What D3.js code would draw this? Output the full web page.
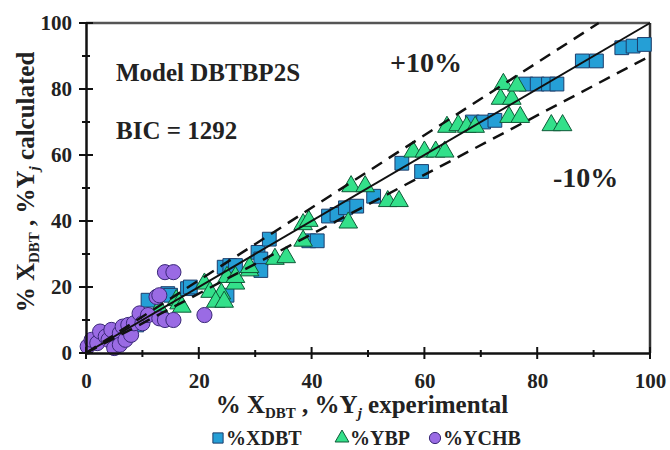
<!DOCTYPE html>
<html>
<head>
<meta charset="utf-8">
<script src="https://cdn.jsdelivr.net/npm/d3@7"></script>
<style>
  body { margin: 0; background: #fff; }
  svg text { font-family: "Liberation Serif", "Times New Roman", serif; font-weight: bold; fill: #222; }
</style>
</head>
<body>
<svg id="chart" width="670" height="450"></svg>
<script>
// %XDBT : [experimental, calculated]
var xdbt = [
  [9, 8.5], [11, 16], [14.5, 18], [15, 17.5], [18, 19.5], [18.5, 20],
  [24.5, 26], [25.5, 26.5], [26.5, 26.5], [25, 17.5], [30.5, 30.5], [31, 28.5],
  [31, 25], [32.5, 34.5], [39.5, 34], [41, 34], [43, 41.5], [44.5, 42],
  [46, 44], [48, 44.5], [51, 47.5], [56, 57.5], [59.5, 55], [68.5, 70],
  [70.5, 70], [72.5, 70.5], [78, 81.5], [80, 81.5], [82, 81.5], [83.5, 81.5],
  [88, 88.5], [90.5, 88.5], [95, 92.5], [97, 93], [99, 93.5]
];
// %YBP
var ybp = [
  [13, 13.5], [16, 16], [16.5, 15], [17, 14], [21, 21], [22, 18.5], [24, 18],
  [23, 15.5], [24.5, 15.5], [26.5, 21], [25, 23], [26.5, 23], [29, 25], [29, 26],
  [33.5, 28.5], [35.5, 29], [38.5, 34], [38.5, 39], [39.5, 40], [46.5, 39.5],
  [47, 50.5], [49.5, 50.5], [53.5, 46], [55.5, 46], [58, 61], [60, 61], [62, 61],
  [63.6, 61], [64, 68.5], [66, 69], [67.5, 68.5], [69, 68.5], [73.5, 77], [75.5, 77],
  [74, 81.5], [76.4, 81], [75, 71.5], [77, 71.5], [82.5, 69], [84.5, 69]
];
// %YCHB
var ychb = [
  [0.3, 2], [1, 4], [2, 3], [2.5, 6.5], [3.5, 5], [4, 4], [4.5, 7], [5, 1.5],
  [6, 6], [6, 2.5], [6.5, 8], [7, 4], [7.5, 8.5], [8, 5.5], [8.5, 9], [9.5, 12],
  [10, 9], [11, 11.5], [12.5, 17], [13, 17.5], [13, 10.5], [14, 10], [15.5, 10],
  [14, 24.5], [15.5, 24.5], [21, 11.5]
];
var ticks = [0, 20, 40, 60, 80, 100];
var minor_ticks = [10, 30, 50, 70, 90];
var legend_names = ["%XDBT", "%YBP", "%YCHB"];

var margin = {top: 23, right: 20, bottom: 97, left: 86},
    width = 670 - margin.left - margin.right,
    height = 450 - margin.top - margin.bottom;

var svg = d3.select("#chart");
var g = svg.append("g").attr("transform", "translate(" + margin.left + "," + margin.top + ")");

var x = d3.scaleLinear().domain([0, 100]).range([0, width]);
var y = d3.scaleLinear().domain([0, 100]).range([height, 0]);

// frame top / right
g.append("line").attr("x1", 0).attr("x2", width).attr("y1", 0).attr("y2", 0)
  .attr("stroke", "#555").attr("stroke-width", 2.5);
g.append("line").attr("x1", width).attr("x2", width).attr("y1", 0).attr("y2", height)
  .attr("stroke", "#333").attr("stroke-width", 2.5);

var mk = {
  square: {sym: d3.symbolSquare, size: 190, fill: "#259fd6", stroke: "#1c3d6b"},
  tri: {sym: d3.symbolTriangle, size: 150, fill: "#33e08a", stroke: "#0f5a38"},
  circ: {sym: d3.symbolCircle, size: 180, fill: "#9a6be4", stroke: "#3a2878"}
};

function draw_series(data, m) {
  g.append("g").selectAll("path")
    .data(data).enter().append("path")
    .attr("d", d3.symbol().type(m.sym).size(m.size))
    .attr("transform", function(d) { return "translate(" + x(d[0]) + "," + y(d[1]) + ")"; })
    .attr("fill", m.fill)
    .attr("stroke", m.stroke)
    .attr("stroke-width", 1);
}
draw_series(xdbt, mk.square);
draw_series(ybp, mk.tri);
draw_series(ychb, mk.circ);

// parity line and +/-10% lines
g.append("line").attr("x1", x(0)).attr("y1", y(0)).attr("x2", x(100)).attr("y2", y(100))
  .attr("stroke", "#111").attr("stroke-width", 2);
g.append("line").attr("x1", x(0)).attr("y1", y(0)).attr("x2", x(100 / 1.1)).attr("y2", y(100))
  .attr("stroke", "#111").attr("stroke-width", 2.5).attr("stroke-dasharray", "12,8");
g.append("line").attr("x1", x(0)).attr("y1", y(0)).attr("x2", x(100)).attr("y2", y(90))
  .attr("stroke", "#111").attr("stroke-width", 2.5).attr("stroke-dasharray", "12,8");

// axes
var xAxis = g.append("g").attr("transform", "translate(0," + height + ")");
xAxis.call(d3.axisBottom(x).tickValues(ticks).tickSize(0).tickPadding(20).tickFormat(d3.format("d")));
var yAxis = g.append("g");
yAxis.call(d3.axisLeft(y).tickValues(ticks).tickSize(0).tickPadding(14).tickFormat(d3.format("d")));
[xAxis, yAxis].forEach(function(a) {
  a.select(".domain").attr("stroke", "#111").attr("stroke-width", 2.5);
  a.selectAll("text").attr("font-size", 21).attr("fill", "#222")
    .style("font-family", "'Liberation Serif', 'Times New Roman', serif").style("font-weight", "bold");
});

// crossing tick marks
ticks.forEach(function(t) {
  g.append("line").attr("x1", x(t)).attr("x2", x(t)).attr("y1", height - 6).attr("y2", height + 6)
    .attr("stroke", "#111").attr("stroke-width", 2);
  g.append("line").attr("x1", -7).attr("x2", 7).attr("y1", y(t)).attr("y2", y(t))
    .attr("stroke", "#111").attr("stroke-width", 2);
});
minor_ticks.forEach(function(t) {
  g.append("line").attr("x1", x(t)).attr("x2", x(t)).attr("y1", height - 3).attr("y2", height + 4)
    .attr("stroke", "#111").attr("stroke-width", 2);
  g.append("line").attr("x1", -4).attr("x2", 4).attr("y1", y(t)).attr("y2", y(t))
    .attr("stroke", "#111").attr("stroke-width", 2);
});

// annotations
svg.append("text").attr("x", 116).attr("y", 81).attr("font-size", 25).text("Model DBTBP2S");
svg.append("text").attr("x", 116).attr("y", 139).attr("font-size", 25).text("BIC = 1292");
svg.append("text").attr("x", 390).attr("y", 72).attr("font-size", 28).text("+10%");
svg.append("text").attr("x", 553).attr("y", 187).attr("font-size", 28).text("-10%");

// axis titles
var xt = svg.append("text").attr("x", 362).attr("y", 413).attr("text-anchor", "middle").attr("font-size", 25);
xt.append("tspan").text("% X");
xt.append("tspan").attr("font-size", 15).attr("dy", 5).text("DBT");
xt.append("tspan").attr("dy", -5).text(" , %Y");
xt.append("tspan").attr("font-size", 15).attr("dy", 5).attr("font-style", "italic").text("j");
xt.append("tspan").attr("dy", -5).text(" experimental");

var yt = svg.append("text").attr("transform", "translate(34,182) rotate(-90)")
  .attr("text-anchor", "middle").attr("font-size", 25);
yt.append("tspan").text("% X");
yt.append("tspan").attr("font-size", 15).attr("dy", 5).text("DBT");
yt.append("tspan").attr("dy", -5).text(" , %Y");
yt.append("tspan").attr("font-size", 15).attr("dy", 5).attr("font-style", "italic").text("j");
yt.append("tspan").attr("dy", -5).text(" calculated");

// legend
var leg_x = [218, 342, 435];
var leg_m = [mk.square, mk.tri, mk.circ];
legend_names.forEach(function(name, i) {
  var m = leg_m[i];
  svg.append("path")
    .attr("d", d3.symbol().type(m.sym).size(m.size * 0.55))
    .attr("transform", "translate(" + leg_x[i] + ",438)")
    .attr("fill", m.fill).attr("stroke", m.stroke).attr("stroke-width", 1);
  svg.append("text").attr("x", leg_x[i] + 8).attr("y", 445).attr("font-size", 20).text(name);
});
</script>
</body>
</html>
